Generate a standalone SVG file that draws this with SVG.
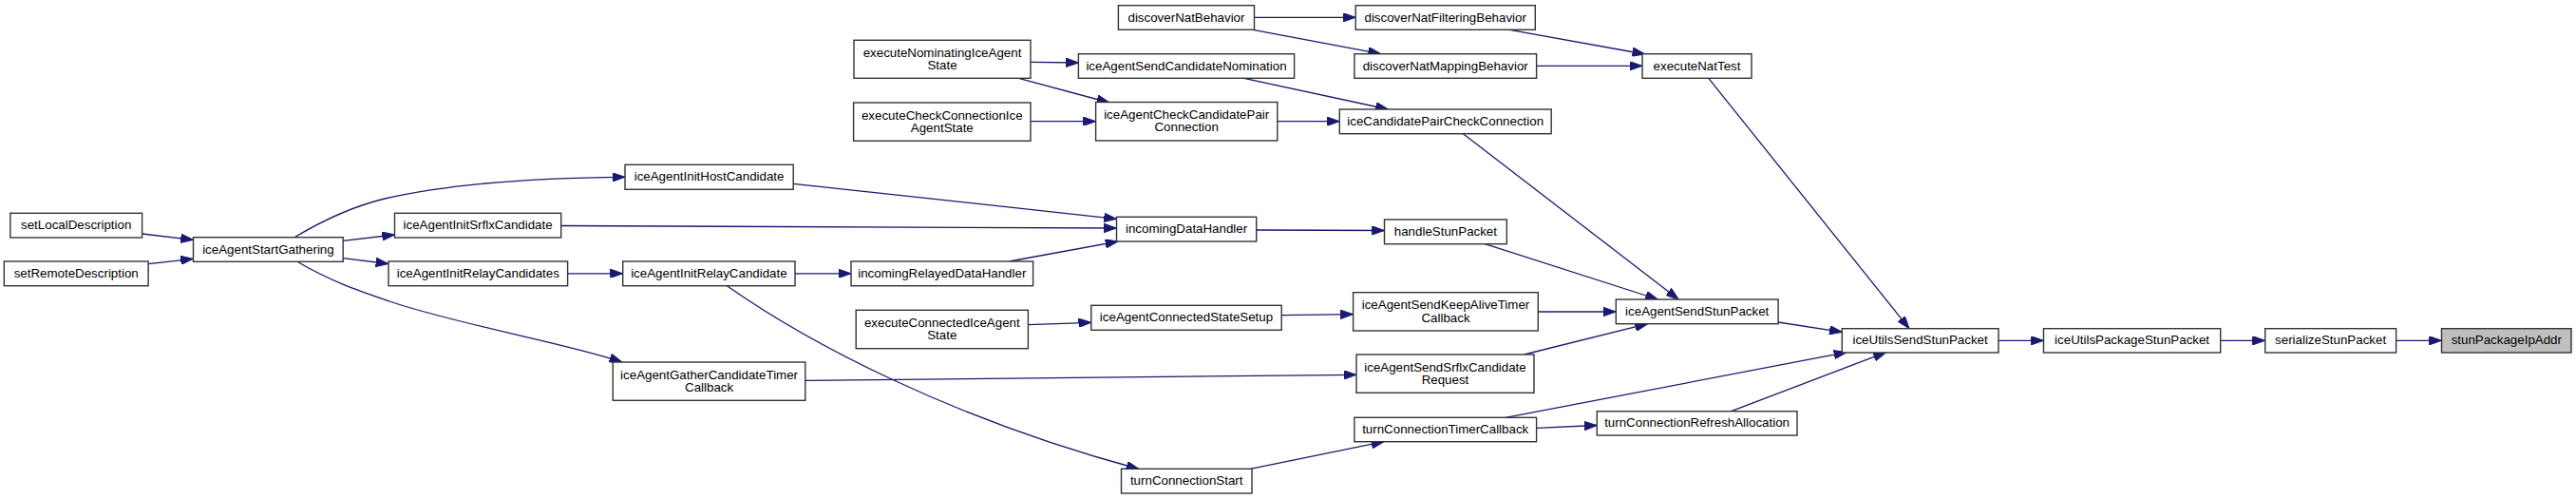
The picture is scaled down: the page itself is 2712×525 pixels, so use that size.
<svg xmlns="http://www.w3.org/2000/svg" width="2712" height="525" viewBox="0 0 2712 525">
<style>
.n rect{fill:#ffffff;stroke:#333333;stroke-width:1.4}
.n.root rect{fill:#bfbfbf}
.n text{font-family:"Liberation Sans",Arial,Helvetica,sans-serif;font-size:13.33px;fill:#000000;text-anchor:middle}
.e path{fill:none;stroke:#191970;stroke-width:1.3;marker-end:url(#ah)}
</style>
<defs>
<marker id="ah" viewBox="0 0 13.3 9.4" refX="13.3" refY="4.7" markerWidth="13.3" markerHeight="9.4" markerUnits="userSpaceOnUse" orient="auto">
<path d="M0,0 L13.3,4.7 L0,9.4 z" fill="#191970" stroke="#191970" stroke-width="1"/>
</marker>
</defs>
<rect x="0" y="0" width="2712" height="525" fill="#ffffff"/>
<g id="connectors" class="e">
<path d="M149.6,246 L203.5,252.3"/>
<path d="M156.1,277.7 L203.5,272.3"/>
<path d="M310,249.7 C338,233 368,218 405,209 C478,192 580,187 658,186.3"/>
<path d="M361.2,253.3 L415.5,247"/>
<path d="M361.2,271.7 L409,277.5"/>
<path d="M313,275.3 C348,296 378,306 410,317 C480,341 600,362 655,381"/>
<path d="M597.6,287.8 L655.7,287.8"/>
<path d="M835.2,193.3 L1175.5,230.3"/>
<path d="M590.7,237.5 L1175.5,240"/>
<path d="M837,287.8 L896,287.8"/>
<path d="M1062.5,275 L1177,254"/>
<path d="M765.4,300.7 C850,360 1000,440 1199,493.5"/>
<path d="M847.8,400.3 L1428,394.3"/>
<path d="M1085,65.3 L1135.4,66"/>
<path d="M1072.5,82.3 L1168,108"/>
<path d="M1085,127.7 L1153.6,127.7"/>
<path d="M1320.5,18.3 L1427.2,18.3"/>
<path d="M1319.2,31.3 L1453.6,56.7"/>
<path d="M1309.7,82.3 L1461.4,115"/>
<path d="M1344.8,127.7 L1410.3,127.7"/>
<path d="M1589.3,31.3 L1731.8,57"/>
<path d="M1617.6,69.3 L1729,69.3"/>
<path d="M1798.8,82.3 L2010,345.7"/>
<path d="M1540.4,140.7 L1767.2,315"/>
<path d="M1322.7,242 L1457.5,242.5"/>
<path d="M1563.4,256.7 L1745.5,315"/>
<path d="M1082.4,341.7 L1148.8,339.3"/>
<path d="M1349.2,331.7 L1424.6,330.7"/>
<path d="M1619.3,328 L1701.3,328"/>
<path d="M1604.6,373 L1734.7,340.7"/>
<path d="M1872.1,339 L1939.3,349.3"/>
<path d="M1316.2,493.3 L1457,464.7"/>
<path d="M1585,439.3 L1944,370.7"/>
<path d="M1617.6,450.3 L1681.3,447.5"/>
<path d="M1822.7,432.7 L1985.5,370.7"/>
<path d="M2104,358.3 L2151.5,358.3"/>
<path d="M2337.7,358.3 L2384.7,358.3"/>
<path d="M2522.6,358.3 L2570.5,358.3"/>
</g>
<g id="setLocalDescription" class="n"><rect x="10.8" y="224.3" width="138.8" height="25.7"/><text x="80.2" y="241.2">setLocalDescription</text></g>
<g id="setRemoteDescription" class="n"><rect x="4.3" y="275" width="151.8" height="25.7"/><text x="80.2" y="291.9">setRemoteDescription</text></g>
<g id="iceAgentStartGathering" class="n"><rect x="203.5" y="249.7" width="157.7" height="25.6"/><text x="282.4" y="266.5">iceAgentStartGathering</text></g>
<g id="iceAgentInitSrflxCandidate" class="n"><rect x="415.5" y="224.3" width="175.2" height="25.7"/><text x="503.1" y="241.2">iceAgentInitSrflxCandidate</text></g>
<g id="iceAgentInitRelayCandidates" class="n"><rect x="409" y="275" width="188.6" height="25.7"/><text x="503.3" y="291.9">iceAgentInitRelayCandidates</text></g>
<g id="iceAgentInitHostCandidate" class="n"><rect x="658" y="173.3" width="177.2" height="26"/><text x="746.6" y="190.3">iceAgentInitHostCandidate</text></g>
<g id="iceAgentInitRelayCandidate" class="n"><rect x="655.7" y="275" width="181.3" height="25.7"/><text x="746.4" y="291.9">iceAgentInitRelayCandidate</text></g>
<g id="iceAgentGatherCandidateTimerCallback" class="n"><rect x="645.3" y="381" width="202.5" height="40.3"/><text x="746.6" y="398.5">iceAgentGatherCandidateTimer</text><text x="746.6" y="411.8">Callback</text></g>
<g id="executeNominatingIceAgentState" class="n"><rect x="899" y="42.3" width="186" height="40"/><text x="992" y="59.6">executeNominatingIceAgent</text><text x="992" y="72.9">State</text></g>
<g id="executeCheckConnectionIceAgentState" class="n"><rect x="898.6" y="108" width="186.4" height="40.3"/><text x="991.8" y="125.5">executeCheckConnectionIce</text><text x="991.8" y="138.8">AgentState</text></g>
<g id="incomingRelayedDataHandler" class="n"><rect x="896" y="275" width="191.6" height="25.7"/><text x="991.8" y="291.9">incomingRelayedDataHandler</text></g>
<g id="executeConnectedIceAgentState" class="n"><rect x="901.2" y="326.3" width="181.2" height="40.4"/><text x="991.8" y="343.8">executeConnectedIceAgent</text><text x="991.8" y="357.1">State</text></g>
<g id="discoverNatBehavior" class="n"><rect x="1177.4" y="5.7" width="143.1" height="25.6"/><text x="1249" y="22.5">discoverNatBehavior</text></g>
<g id="iceAgentSendCandidateNomination" class="n"><rect x="1135.4" y="56.7" width="227.2" height="25.6"/><text x="1249" y="73.5">iceAgentSendCandidateNomination</text></g>
<g id="iceAgentCheckCandidatePairConnection" class="n"><rect x="1153.6" y="107.5" width="191.2" height="40.5"/><text x="1249.2" y="125.1">iceAgentCheckCandidatePair</text><text x="1249.2" y="138.4">Connection</text></g>
<g id="incomingDataHandler" class="n"><rect x="1175.5" y="228.3" width="147.2" height="25.7"/><text x="1249.1" y="245.2">incomingDataHandler</text></g>
<g id="iceAgentConnectedStateSetup" class="n"><rect x="1148.8" y="321.3" width="200.4" height="26"/><text x="1249" y="338.3">iceAgentConnectedStateSetup</text></g>
<g id="turnConnectionStart" class="n"><rect x="1180.5" y="493.3" width="137.5" height="25.7"/><text x="1249.2" y="510.2">turnConnectionStart</text></g>
<g id="discoverNatFilteringBehavior" class="n"><rect x="1427.2" y="5.7" width="189.1" height="25.6"/><text x="1521.7" y="22.5">discoverNatFilteringBehavior</text></g>
<g id="discoverNatMappingBehavior" class="n"><rect x="1425.9" y="56.7" width="191.7" height="25.6"/><text x="1521.7" y="73.5">discoverNatMappingBehavior</text></g>
<g id="iceCandidatePairCheckConnection" class="n"><rect x="1410.3" y="115" width="222.9" height="25.7"/><text x="1521.7" y="131.9">iceCandidatePairCheckConnection</text></g>
<g id="handleStunPacket" class="n"><rect x="1457.5" y="231" width="128.8" height="25.7"/><text x="1521.9" y="247.9">handleStunPacket</text></g>
<g id="iceAgentSendKeepAliveTimerCallback" class="n"><rect x="1424.6" y="307.7" width="194.7" height="40.3"/><text x="1522" y="325.2">iceAgentSendKeepAliveTimer</text><text x="1522" y="338.5">Callback</text></g>
<g id="iceAgentSendSrflxCandidateRequest" class="n"><rect x="1428" y="373" width="187" height="40.3"/><text x="1521.5" y="390.5">iceAgentSendSrflxCandidate</text><text x="1521.5" y="403.8">Request</text></g>
<g id="turnConnectionTimerCallback" class="n"><rect x="1425.9" y="439.3" width="191.7" height="25.4"/><text x="1521.7" y="456">turnConnectionTimerCallback</text></g>
<g id="executeNatTest" class="n"><rect x="1729" y="56.7" width="115" height="25.6"/><text x="1786.5" y="73.5">executeNatTest</text></g>
<g id="iceAgentSendStunPacket" class="n"><rect x="1701.3" y="315" width="170.8" height="25.7"/><text x="1786.7" y="331.9">iceAgentSendStunPacket</text></g>
<g id="turnConnectionRefreshAllocation" class="n"><rect x="1681.3" y="432.7" width="210.7" height="25.3"/><text x="1786.6" y="449.4">turnConnectionRefreshAllocation</text></g>
<g id="iceUtilsSendStunPacket" class="n"><rect x="1939.3" y="345.7" width="164.7" height="25.3"/><text x="2021.6" y="362.4">iceUtilsSendStunPacket</text></g>
<g id="iceUtilsPackageStunPacket" class="n"><rect x="2151.5" y="345.7" width="186.2" height="25.3"/><text x="2244.6" y="362.4">iceUtilsPackageStunPacket</text></g>
<g id="serializeStunPacket" class="n"><rect x="2384.7" y="345.7" width="137.9" height="25.3"/><text x="2453.6" y="362.4">serializeStunPacket</text></g>
<g id="stunPackageIpAddr" class="n root"><rect x="2570.5" y="345.7" width="136.5" height="25.3"/><text x="2638.8" y="362.4">stunPackageIpAddr</text></g>
</svg>
